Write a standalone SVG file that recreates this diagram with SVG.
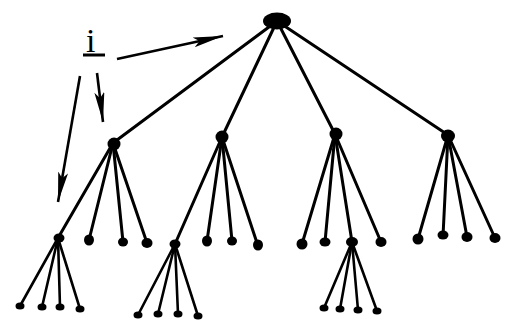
<svg xmlns="http://www.w3.org/2000/svg" width="509" height="326" viewBox="0 0 509 326">
<style>
.e{stroke:#000;stroke-width:3;stroke-linecap:round;fill:none}
.s{stroke:#000;stroke-width:2.6;stroke-linecap:round;fill:none}
.n{fill:#000}
.a{stroke:#000;stroke-width:2.6;fill:none}
.t{font-family:"Liberation Serif",serif;font-size:34px;fill:#000}
</style>
<defs>
<marker id="ah" markerUnits="userSpaceOnUse" markerWidth="32" markerHeight="12" refX="30" refY="5" orient="auto">
<path d="M0,0 L30,5 L0,10 L6,5 z" fill="#000"/>
</marker>
</defs>
<rect width="509" height="326" fill="#fff"/>
<g id="connectors">
<line class="e" x1="277" y1="21" x2="113" y2="143"/>
<line class="e" x1="277" y1="21" x2="222" y2="137"/>
<line class="e" x1="277" y1="21" x2="335" y2="134"/>
<line class="e" x1="277" y1="21" x2="448" y2="135"/>
<line class="e" x1="113" y1="143" x2="58" y2="238"/>
<line class="e" x1="113" y1="143" x2="89" y2="240"/>
<line class="e" x1="113" y1="143" x2="123" y2="242"/>
<line class="e" x1="113" y1="143" x2="147" y2="243"/>
<line class="e" x1="222" y1="137" x2="175" y2="244"/>
<line class="e" x1="222" y1="137" x2="207" y2="241"/>
<line class="e" x1="222" y1="137" x2="232" y2="241"/>
<line class="e" x1="222" y1="137" x2="258" y2="246"/>
<line class="e" x1="335" y1="134" x2="302" y2="244"/>
<line class="e" x1="335" y1="134" x2="325" y2="242"/>
<line class="e" x1="335" y1="134" x2="352" y2="242"/>
<line class="e" x1="335" y1="134" x2="381" y2="242"/>
<line class="e" x1="448" y1="135" x2="418" y2="239"/>
<line class="e" x1="448" y1="135" x2="443" y2="236"/>
<line class="e" x1="448" y1="135" x2="467" y2="237"/>
<line class="e" x1="448" y1="135" x2="495" y2="238"/>
<line class="s" x1="58" y1="238" x2="20" y2="306"/>
<line class="s" x1="58" y1="238" x2="42" y2="307"/>
<line class="s" x1="58" y1="238" x2="60" y2="307"/>
<line class="s" x1="58" y1="238" x2="80" y2="309"/>
<line class="s" x1="175" y1="244" x2="138" y2="315"/>
<line class="s" x1="175" y1="244" x2="158" y2="314"/>
<line class="s" x1="175" y1="244" x2="178" y2="314"/>
<line class="s" x1="175" y1="244" x2="198" y2="316"/>
<line class="s" x1="352" y1="242" x2="324" y2="308"/>
<line class="s" x1="352" y1="242" x2="340" y2="309"/>
<line class="s" x1="352" y1="242" x2="358" y2="310"/>
<line class="s" x1="352" y1="242" x2="377" y2="311"/>
<line class="a" x1="117" y1="59" x2="223" y2="36" marker-end="url(#ah)"/>
<line class="a" x1="97" y1="73" x2="103" y2="122" marker-end="url(#ah)"/>
<line class="a" x1="80" y1="76" x2="58" y2="202" marker-end="url(#ah)"/>
</g>
<g id="label-i">
<text class="t" x="86" y="52">i</text>
<line x1="83" y1="55" x2="105" y2="55" stroke="#000" stroke-width="3"/>
</g>
<g id="root"><ellipse class="n" cx="277" cy="21" rx="14" ry="8.5"/></g>
<g id="n1"><ellipse class="n" cx="114" cy="144" rx="6.5" ry="6.5"/></g>
<g id="n2"><ellipse class="n" cx="222" cy="137" rx="6.5" ry="6.5"/></g>
<g id="n3"><ellipse class="n" cx="336" cy="134" rx="6.5" ry="6.5"/></g>
<g id="n4"><ellipse class="n" cx="448" cy="136" rx="7" ry="6.5"/></g>
<g id="n1a"><ellipse class="n" cx="59" cy="238" rx="5.5" ry="4.5"/></g>
<g id="n1b"><ellipse class="n" cx="89" cy="240" rx="5" ry="5.5"/></g>
<g id="n1c"><ellipse class="n" cx="123" cy="242" rx="5" ry="4.5"/></g>
<g id="n1d"><ellipse class="n" cx="147" cy="243" rx="5.5" ry="5"/></g>
<g id="n2a"><ellipse class="n" cx="175" cy="244" rx="5.5" ry="4.5"/></g>
<g id="n2b"><ellipse class="n" cx="207" cy="241" rx="5" ry="5.5"/></g>
<g id="n2c"><ellipse class="n" cx="232" cy="241" rx="5" ry="4.5"/></g>
<g id="n2d"><ellipse class="n" cx="258" cy="245" rx="5" ry="5.5"/></g>
<g id="n3a"><ellipse class="n" cx="302" cy="244" rx="5.5" ry="5.5"/></g>
<g id="n3b"><ellipse class="n" cx="325" cy="242" rx="5.5" ry="4.5"/></g>
<g id="n3c"><ellipse class="n" cx="352" cy="242" rx="6" ry="5"/></g>
<g id="n3d"><ellipse class="n" cx="381" cy="242" rx="5.5" ry="5"/></g>
<g id="n4a"><ellipse class="n" cx="418" cy="239" rx="5.5" ry="5.5"/></g>
<g id="n4b"><ellipse class="n" cx="443" cy="235" rx="5.5" ry="4.5"/></g>
<g id="n4c"><ellipse class="n" cx="467" cy="237" rx="5.5" ry="5"/></g>
<g id="n4d"><ellipse class="n" cx="495" cy="238" rx="5.5" ry="5"/></g>
<g id="n1a1"><ellipse class="n" cx="20" cy="306" rx="4.5" ry="3.5"/></g>
<g id="n1a2"><ellipse class="n" cx="42" cy="307" rx="4.5" ry="3.5"/></g>
<g id="n1a3"><ellipse class="n" cx="60" cy="307" rx="4.5" ry="3.5"/></g>
<g id="n1a4"><ellipse class="n" cx="80" cy="309" rx="4.5" ry="3.5"/></g>
<g id="n2a1"><ellipse class="n" cx="138" cy="315" rx="4.5" ry="3.5"/></g>
<g id="n2a2"><ellipse class="n" cx="158" cy="314" rx="4.5" ry="3.5"/></g>
<g id="n2a3"><ellipse class="n" cx="178" cy="314" rx="4.5" ry="3.5"/></g>
<g id="n2a4"><ellipse class="n" cx="198" cy="316" rx="4.5" ry="3.5"/></g>
<g id="n3c1"><ellipse class="n" cx="324" cy="308" rx="4.5" ry="3.5"/></g>
<g id="n3c2"><ellipse class="n" cx="340" cy="309" rx="4.5" ry="3.5"/></g>
<g id="n3c3"><ellipse class="n" cx="358" cy="310" rx="4.5" ry="3.5"/></g>
<g id="n3c4"><ellipse class="n" cx="377" cy="311" rx="4.5" ry="3.5"/></g>
</svg>
